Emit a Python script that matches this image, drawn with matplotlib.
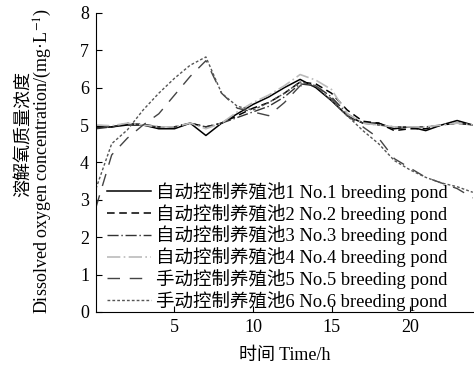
import matplotlib
matplotlib.use("Agg")
import matplotlib.pyplot as plt

plt.rcParams['font.family'] = ['Liberation Serif', 'Noto Sans CJK SC']
plt.rcParams['mathtext.fontset'] = 'stix'

hours = list(range(25))
s1 = [4.95,4.95,5.0,5.0,4.9,4.9,5.05,4.72,5.05,5.3,5.55,5.75,6.0,6.22,6.0,5.65,5.25,5.05,5.05,4.9,4.95,4.85,5.0,5.12,5.0]
s2 = [4.95,4.95,5.02,5.02,4.95,4.95,5.05,4.95,5.05,5.25,5.45,5.6,5.85,6.15,6.1,5.85,5.4,5.1,5.05,4.85,4.9,4.9,5.0,5.05,5.0]
s3 = [4.9,4.95,5.05,5.0,4.95,4.95,5.05,4.95,5.05,5.2,5.35,5.5,5.75,6.1,6.05,5.75,5.3,5.05,5.0,4.95,4.95,4.95,5.0,5.05,5.0]
s4 = [5.0,4.98,5.05,5.0,4.95,4.95,5.05,4.9,5.05,5.35,5.6,5.8,6.05,6.35,6.2,5.95,5.3,5.05,5.0,4.95,4.95,4.95,5.0,5.05,5.0]
s5 = [2.8,4.2,4.65,5.0,5.3,5.8,6.3,6.72,5.85,5.45,5.35,5.25,5.6,6.05,6.05,5.7,5.25,4.95,4.65,4.1,3.85,3.6,3.45,3.3,3.05]
s6 = [3.3,4.5,4.87,5.4,5.85,6.25,6.6,6.82,5.85,5.5,5.4,5.6,5.85,6.15,6.05,5.65,5.25,4.85,4.5,4.05,3.8,3.6,3.45,3.35,3.2]

labels = ["自动控制养殖池1 No.1 breeding pond",
          "自动控制养殖池2 No.2 breeding pond",
          "自动控制养殖池3 No.3 breeding pond",
          "自动控制养殖池4 No.4 breeding pond",
          "手动控制养殖池5 No.5 breeding pond",
          "手动控制养殖池6 No.6 breeding pond"]
ylabel_cn = "溶解氧质量浓度"
ylabel_en = "Dissolved oxygen concentration/(mg·L$^{-1}$)"
xlabel = "时间 Time/h"

fig = plt.figure(figsize=(4.74, 3.67), dpi=100)
ax = fig.add_axes([0.2025, 0.150, 0.795, 0.815])

ax.plot(hours, s1, color='black', lw=1.1, ls='-', label=labels[0])
ax.plot(hours, s2, color='black', lw=1.1, ls=(0, (5, 3)), label=labels[1])
ax.plot(hours, s3, color='#333333', lw=1.0, ls=(0, (8, 2, 1, 2)), label=labels[2])
ax.plot(hours, s4, color='#bbbbbb', lw=1.2, ls=(0, (8, 2, 1, 2)), label=labels[3])
ax.plot(hours, s5, color='#444444', lw=1.0, ls=(0, (9, 7)), label=labels[4])
ax.plot(hours, s6, color='#555555', lw=1.0, ls=(0, (2, 1.5)), label=labels[5])

ax.set_xlim(0, 24)
ax.set_ylim(0, 8)
ax.set_xticks([5, 10, 15, 20])
ax.set_yticks(range(0, 9))
ax.tick_params(direction='in', labelsize=13, length=4, pad=5)
ax.spines['top'].set_visible(False)
ax.spines['right'].set_visible(False)

ax.set_xlabel(xlabel, fontsize=13, labelpad=8)
fig.text(24 / 474, 1 - 134 / 367, ylabel_cn, rotation=90, ha='center', va='center', fontsize=13)
fig.text(43 / 474, 1 - 161 / 367, ylabel_en, rotation=90, ha='center', va='center', fontsize=13)

ax.legend(loc='lower left', bbox_to_anchor=(0.01, -0.02), frameon=False,
          fontsize=13.3, handlelength=2.4, handletextpad=0.25, labelspacing=0.1,
          borderaxespad=0.0)

fig.savefig("out.png", dpi=100)
